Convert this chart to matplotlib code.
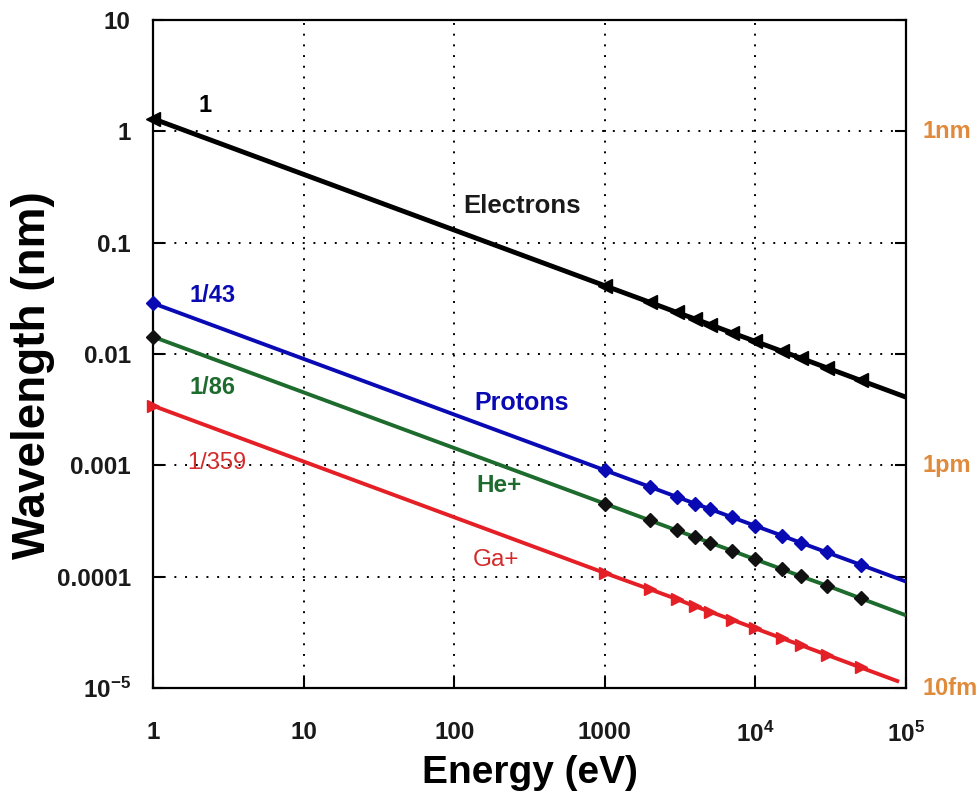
import matplotlib
matplotlib.use("Agg")
import matplotlib.pyplot as plt
from matplotlib.ticker import FixedLocator, FixedFormatter, NullLocator
import matplotlib.transforms as mtransforms

plt.rcParams["font.family"] = ["Liberation Sans", "DejaVu Sans"]
plt.rcParams["mathtext.fontset"] = "custom"
plt.rcParams["mathtext.rm"] = "Liberation Sans"
plt.rcParams["mathtext.bf"] = "Liberation Sans:bold"

# kinetic energy (eV) at the marked points
energy = [1, 1000, 2000, 3000, 4000, 5000, 7000, 10000, 15000, 20000, 30000, 50000]

# de Broglie wavelength (nm) at those energies
lam_electron = [1.30, 0.0411, 0.0291, 0.0237, 0.0206, 0.0184, 0.0155, 0.0130,
                0.0106, 0.0092, 0.0075, 0.0058]
lam_proton = [0.0286, 9.05e-4, 6.4e-4, 5.22e-4, 4.52e-4, 4.05e-4, 3.42e-4, 2.86e-4,
              2.34e-4, 2.02e-4, 1.65e-4, 1.28e-4]
lam_helium = [0.0143, 4.53e-4, 3.2e-4, 2.61e-4, 2.26e-4, 2.02e-4, 1.71e-4, 1.43e-4,
              1.17e-4, 1.01e-4, 8.3e-5, 6.4e-5]
lam_gallium = [0.00343, 1.08e-4, 7.7e-5, 6.3e-5, 5.4e-5, 4.85e-5, 4.1e-5, 3.43e-5,
               2.8e-5, 2.43e-5, 1.98e-5, 1.53e-5]

# where each curve runs out past the last marker
end_energy = {"electron": 1e5, "proton": 1e5, "helium": 1e5, "gallium": 9e4}
end_lam = {"electron": 0.0041, "proton": 9.05e-5, "helium": 4.5e-5, "gallium": 1.14e-5}

x_ticks = [1, 10, 100, 1000, 1e4, 1e5]
x_labels = ["1", "10", "100", "1000", r"$\mathbf{10^{4}}$", r"$\mathbf{10^{5}}$"]
y_ticks = [10, 1, 0.1, 0.01, 0.001, 0.0001, 1e-5]
y_labels = ["10", "1", "0.1", "0.01", "0.001", "0.0001", r"$\mathbf{10^{-5}}$"]

scale_vals = [1, 0.001, 1e-5]
scale_labels = ["1nm", "1pm", "10fm"]

series = [
    ("electron", lam_electron, "black", "black", "<", 10, 3.5),
    ("proton", lam_proton, "#0a0ab4", "#0a0ab4", "D", 7, 2.8),
    ("helium", lam_helium, "#1e6b2e", "#111111", "D", 7, 2.8),
    ("gallium", lam_gallium, "#e41f26", "#e41f26", ">", 8.5, 2.8),
]

fig = plt.figure(figsize=(9.79, 8.05), dpi=100, facecolor="white")
ax = fig.add_axes([0.1563, 0.1453, 0.7691, 0.8298])

for key, lam, lc, mc, mk, ms, lw in series:
    ax.plot(energy + [end_energy[key]], lam + [end_lam[key]], color=lc, lw=lw,
            solid_capstyle="butt", zorder=3)
    ax.plot(energy, lam, ls="none", marker=mk, ms=ms, color=mc, mec=mc,
            clip_on=False, zorder=4)

ax.set_xscale("log")
ax.set_yscale("log")
ax.set_xlim(1, 1e5)
ax.set_ylim(1e-5, 10)

ax.xaxis.set_major_locator(FixedLocator(x_ticks))
ax.xaxis.set_major_formatter(FixedFormatter(x_labels))
ax.xaxis.set_minor_locator(NullLocator())
ax.yaxis.set_major_locator(FixedLocator(y_ticks))
ax.yaxis.set_major_formatter(FixedFormatter(y_labels))
ax.yaxis.set_minor_locator(NullLocator())

ax.grid(True, which="major", color="black", linestyle=(0, (1, 4.5)), linewidth=1.4)
ax.tick_params(axis="both", direction="in", length=8, width=1.5, top=False,
               right=True, labelsize=17.5, labelcolor="#1a1a1a")
ax.tick_params(axis="x", pad=24)
ax.tick_params(axis="y", pad=16)
for lab in ax.get_xticklabels() + ax.get_yticklabels():
    lab.set_fontweight("bold")
for s in ax.spines.values():
    s.set_linewidth(1.6)

ax.set_xlabel("Energy (eV)", fontsize=28, fontweight="bold")
ax.xaxis.set_label_coords(0.5, -0.1)
ax.set_ylabel("Wavelength (nm)", fontsize=33, fontweight="bold")
ax.yaxis.set_label_coords(-0.13, 0.468)

# mass-ratio and species labels
ax.text(2.2, 1.71, "1", fontsize=17, fontweight="bold", color="black",
        ha="center", va="center")
ax.text(114, 0.212, "Electrons", fontsize=18.5, fontweight="bold", color="#1a1a1a",
        ha="left", va="center")
ax.text(1.76, 0.0336, "1/43", fontsize=17, fontweight="bold", color="#0a0ab4",
        ha="left", va="center")
ax.text(137, 0.0036, "Protons", fontsize=18, fontweight="bold", color="#0a0ab4",
        ha="left", va="center")
ax.text(1.76, 0.0050, "1/86", fontsize=17, fontweight="bold", color="#1e6b2e",
        ha="left", va="center")
ax.text(140, 0.00066, "He+", fontsize=17.5, fontweight="bold", color="#1e6b2e",
        ha="left", va="center")
ax.text(1.68, 0.00104, "1/359", fontsize=17, color="#d42a2a",
        ha="left", va="center")
ax.text(133, 1.4e-4, "Ga+", fontsize=17.5, color="#d42a2a",
        ha="left", va="center")

# length-scale markers on the right edge
trans = mtransforms.blended_transform_factory(ax.transAxes, ax.transData)
for v, lbl in zip(scale_vals, scale_labels):
    ax.text(1.022, v, lbl, transform=trans, fontsize=17, fontweight="bold",
            color="#e08a3c", ha="left", va="center", clip_on=False)

fig.savefig("out.png", dpi=100, facecolor="white")
